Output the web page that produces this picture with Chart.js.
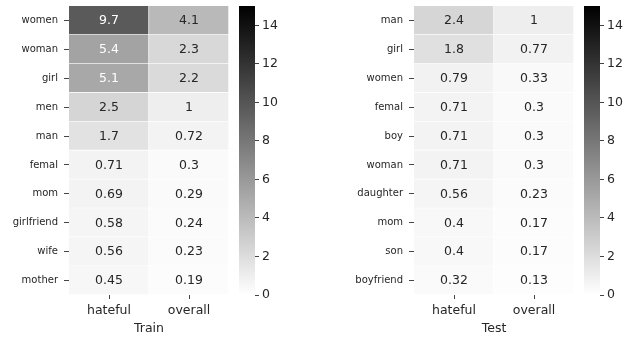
<!DOCTYPE html>
<html>
<head>
<meta charset="utf-8">
<script src="https://cdn.jsdelivr.net/npm/chart.js@4"></script>
<style>
  html, body { margin: 0; padding: 0; background: #fff; }
  #wrap { position: relative; width: 624px; height: 337px; overflow: hidden; }
  canvas { position: absolute; top: 0; }
</style>
</head>
<body>
<div id="wrap">
  <canvas id="trainMap" width="232" height="337" style="left:0px"></canvas>
  <canvas id="trainBar" width="88" height="337" style="left:232px"></canvas>
  <canvas id="testMap" width="257" height="337" style="left:320px"></canvas>
  <canvas id="testBar" width="47" height="337" style="left:577px"></canvas>
</div>
<script>
// Columns of both heatmaps
const columns = ['hateful', 'overall'];

// Train split
const trainWords = ['women', 'woman', 'girl', 'men', 'man', 'femal', 'mom', 'girlfriend', 'wife', 'mother'];
const trainHateful = [9.7, 5.4, 5.1, 2.5, 1.7, 0.71, 0.69, 0.58, 0.56, 0.45];
const trainOverall = [4.1, 2.3, 2.2, 1, 0.72, 0.3, 0.29, 0.24, 0.23, 0.19];

// Test split
const testWords = ['man', 'girl', 'women', 'femal', 'boy', 'woman', 'daughter', 'mom', 'son', 'boyfriend'];
const testHateful = [2.4, 1.8, 0.79, 0.71, 0.71, 0.71, 0.56, 0.4, 0.4, 0.32];
const testOverall = [1, 0.77, 0.33, 0.3, 0.3, 0.3, 0.23, 0.17, 0.17, 0.13];

// Colour scale
const colorMin = 0;
const colorMax = 15;
const colorbarTicks = [0, 2, 4, 6, 8, 10, 12, 14];

const FONT = "'DejaVu Sans', 'Liberation Sans', sans-serif";
const INK = '#262626';

// gray_r: white at the minimum, black at the maximum
function grayLevel(v) {
  const t = Math.max(0, Math.min(1, (v - colorMin) / (colorMax - colorMin)));
  return Math.round(255 * (1 - t));
}
function shade(v) {
  const g = grayLevel(v);
  return `rgb(${g},${g},${g})`;
}
// light or dark annotation text depending on the cell luminance
function textColorFor(v) {
  const c = grayLevel(v) / 255;
  const lin = c <= 0.03928 ? c / 12.92 : Math.pow((c + 0.055) / 1.055, 2.4);
  return lin < 0.408 ? '#ffffff' : INK;
}
function fmt(v) {
  return String(Number(v.toPrecision(2)));
}

// keep the plot area where the layout padding puts it
function noLabelPadding(s) {
  s.paddingTop = 0;
  s.paddingBottom = 0;
  s.paddingLeft = 0;
  s.paddingRight = 0;
}

// Writes each cell's value in its centre
const cellLabels = {
  id: 'cellLabels',
  afterDatasetsDraw(chart) {
    const ctx = chart.ctx;
    ctx.save();
    ctx.font = `12.5px ${FONT}`;
    ctx.textAlign = 'center';
    ctx.textBaseline = 'middle';
    chart.data.datasets.forEach((ds, di) => {
      const meta = chart.getDatasetMeta(di);
      meta.data.forEach((el, i) => {
        const v = ds.values[i];
        const p = el.getCenterPoint();
        ctx.fillStyle = textColorFor(v);
        ctx.fillText(fmt(v), p.x, p.y + 0.5);
      });
    });
    ctx.restore();
  }
};

function makeHeatmap(id, words, hateful, overall, title, yWidth) {
  const cols = [hateful, overall];
  new Chart(document.getElementById(id), {
    type: 'bar',
    data: {
      labels: words,
      datasets: columns.map((name, c) => ({
        label: name,
        values: cols[c],
        data: cols[c].map(() => [c, c + 1]),
        backgroundColor: cols[c].map(shade),
        borderColor: '#ffffff',
        borderWidth: { top: 0, left: 0, right: 1, bottom: 1 },
        borderSkipped: false,
        barPercentage: 1,
        categoryPercentage: 1,
        grouped: false
      }))
    },
    options: {
      indexAxis: 'y',
      responsive: false,
      animation: false,
      events: [],
      layout: { padding: { top: 6, right: 3, left: 0, bottom: 0 } },
      plugins: { legend: { display: false }, tooltip: { enabled: false } },
      scales: {
        x: {
          type: 'linear',
          min: 0,
          max: columns.length,
          position: 'bottom',
          afterBuildTicks: s => { s.ticks = columns.map((_, i) => ({ value: i + 0.5 })); },
          afterFit: s => { s.height = 42; noLabelPadding(s); },
          ticks: {
            autoSkip: false,
            maxRotation: 0,
            padding: 4,
            color: INK,
            font: { family: FONT, size: 12.5 },
            callback: (v, i) => columns[i]
          },
          grid: { drawOnChartArea: false, tickLength: 4, color: '#444', tickWidth: 1 },
          border: { display: false },
          title: {
            display: true,
            text: title,
            color: INK,
            font: { family: FONT, size: 12.5 },
            padding: { top: 0, bottom: 1 }
          }
        },
        y: {
          type: 'category',
          afterFit: s => { s.width = yWidth; noLabelPadding(s); },
          ticks: {
            autoSkip: false,
            padding: 6,
            color: INK,
            font: { family: FONT, size: 10 }
          },
          grid: { offset: false, drawOnChartArea: false, tickLength: 5, color: '#444', tickWidth: 1 },
          border: { display: false }
        }
      }
    },
    plugins: [cellLabels]
  });
}

function makeColorbar(id, yWidth) {
  new Chart(document.getElementById(id), {
    type: 'bar',
    data: {
      labels: ['scale'],
      datasets: [{
        data: [[colorMin, colorMax]],
        backgroundColor: (ctx) => {
          const chart = ctx.chart;
          if (!chart.chartArea) return '#888';
          const y = chart.scales.y;
          const g = chart.ctx.createLinearGradient(0, y.getPixelForValue(colorMin), 0, y.getPixelForValue(colorMax));
          g.addColorStop(0, shade(colorMin));
          g.addColorStop(1, shade(colorMax));
          return g;
        },
        borderWidth: 0,
        barPercentage: 1,
        categoryPercentage: 1
      }]
    },
    options: {
      responsive: false,
      animation: false,
      events: [],
      layout: { padding: { top: 6, right: 0, left: 7, bottom: 42 } },
      plugins: { legend: { display: false }, tooltip: { enabled: false } },
      scales: {
        x: { display: false },
        y: {
          type: 'linear',
          position: 'right',
          min: colorMin,
          max: colorMax,
          afterBuildTicks: s => { s.ticks = colorbarTicks.map(v => ({ value: v })); },
          afterFit: s => { s.width = yWidth; noLabelPadding(s); },
          ticks: {
            padding: 3,
            color: INK,
            font: { family: FONT, size: 12.5 }
          },
          grid: { drawOnChartArea: false, tickLength: 4, color: '#444', tickWidth: 1 },
          border: { display: false }
        }
      }
    }
  });
}

makeHeatmap('trainMap', trainWords, trainHateful, trainOverall, 'Train', 69);
makeColorbar('trainBar', 65);
makeHeatmap('testMap', testWords, testHateful, testOverall, 'Test', 94);
makeColorbar('testBar', 24);
</script>
</body>
</html>
